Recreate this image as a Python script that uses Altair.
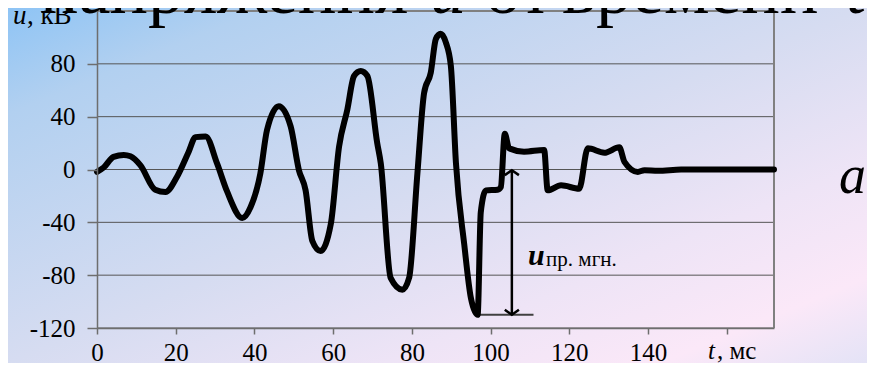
import altair as alt
import pandas as pd

# ---- data ----
t_ms = [0, 1.7, 4.2, 6.8, 8.5, 11, 14.8, 17.4, 20.3, 23.3, 25, 27.6, 30.5, 33.1,
        36.9, 39, 41.5, 43.2, 46.2, 49.2, 51.3, 53, 54.7, 56.8, 59.4, 61.5, 63.6,
        65.3, 67, 68.7, 71.2, 72.1, 74.6, 77.6, 79.3, 81.4, 83.1, 84.8, 86.1, 87.3,
        88.6, 89.9, 91.2, 93.3, 95, 96.7, 97.5, 98.8, 101.8, 102.6, 103.6, 104.7,
        108.5, 113.6, 114.5, 117.9, 122.5, 124.7, 128.9, 132.7, 134, 137.4, 139.1,
        142.5, 148.4, 172]
u_kv = [-1.8, 1.5, 9.6, 11, 10, 3.3, -15.3, -17, -5.6, 13.5, 24.5, 25, 4.6, -17,
        -36.7, -28.6, -3, 30, 47.9, 32.6, -0.5, -15.8, -54, -61.7, -41.3, 17.3, 45.4,
        70.8, 74.6, 70.8, 19.9, 4.6, -82, -91, -82, -3, 58, 73.4, 98.9, 102.7,
        96.4, 78.5, 4.6, -56.6, -97.4, -110, -32.4, -15.8, -15.3, -13.3, 27, 16,
        13.5, 14.8, -15.8, -12, -14.5, 16, 12.7, 16.8, 5.8, -1.8, -0.5,
        -1, 0, 0]

x_ticks = [0, 20, 40, 60, 80, 100, 120, 140, 160]
y_ticks = [-120, -80, -40, 0, 40, 80]
grid_vals = [-120, -80, -40, 0, 40, 80, 120]

arrow_t = [105.4]
arrow_top = [-0.5]
arrow_bottom = [-110]
base_t = [96.7]
base_t2 = [110.9]
label_t = [109.5, 114.1]
label_u = [-72.3, -73.1]
label_txt = ["u", "пр. мгн."]

W, H = 677, 317
FONT = "Liberation Serif"

xs = alt.Scale(domain=[0, 172], nice=False, zero=False)
ys = alt.Scale(domain=[-120, 120], nice=False, zero=False)
one = pd.DataFrame({"k": [0]})

x_axis = alt.Axis(
    values=x_ticks, title=None, grid=False, zindex=1,
    labelExpr="datum.value == 160 ? '' : datum.label",
    domainColor="#6e6e6e", domainWidth=1.5, tickColor="#6e6e6e", tickWidth=1.5,
    tickSize=6, labelFont=FONT, labelFontSize=25, labelColor="black",
    labelPadding=6, labelOverlap=False, labelFlush=False)
y_axis = alt.Axis(
    values=y_ticks, title=None, grid=False, zindex=1,
    labelExpr="datum.value < 0 ? '-' + abs(datum.value) : '' + datum.value",
    domainColor="#6e6e6e", domainWidth=1.5, tickColor="#6e6e6e", tickWidth=1.5,
    tickSize=10, labelFont=FONT, labelFontSize=25, labelColor="black",
    labelPadding=12, labelOverlap=False, labelFlush=False)

# background gradient covering whole canvas
grad = alt.LinearGradient(
    gradient="linear",
    stops=[
        alt.GradientStop(color="#8EC4F5", offset=0),
        alt.GradientStop(color="#B2D0F0", offset=0.15),
        alt.GradientStop(color="#D6DCF1", offset=0.5),
        alt.GradientStop(color="#EEE4F6", offset=0.72),
        alt.GradientStop(color="#FBE8F8", offset=0.88),
        alt.GradientStop(color="#E4E3F6", offset=1),
    ],
    x1=0, y1=0, x2=1, y2=1,
)
bg = alt.Chart(one).mark_rect(fill=grad, strokeWidth=0).encode(
    x=alt.value(-89), x2=alt.value(W + 93), y=alt.value(-3), y2=alt.value(H + 35)
)

grid = alt.Chart(pd.DataFrame({"g": grid_vals})).mark_rule(
    color="#555555", strokeWidth=1
).encode(y=alt.Y("g:Q", scale=ys, axis=y_axis))

right_border = alt.Chart(one).mark_rule(color="#808080", strokeWidth=2).encode(
    x=alt.value(W), y=alt.value(0), y2=alt.value(H)
)
top_border = alt.Chart(one).mark_rule(color="#808080", strokeWidth=2).encode(
    x=alt.value(0), x2=alt.value(W), y=alt.value(0)
)

wave = pd.DataFrame({"t": t_ms, "u": u_kv})
line = alt.Chart(wave).mark_line(
    color="black", strokeWidth=6, strokeJoin="round", strokeCap="round",
    interpolate="monotone"
).encode(
    x=alt.X("t:Q", scale=xs, axis=x_axis),
    y=alt.Y("u:Q", scale=ys, axis=y_axis),
)

arr = pd.DataFrame({"t": arrow_t, "a": arrow_top, "b": arrow_bottom})
shaft = alt.Chart(arr).mark_rule(color="black", strokeWidth=2.5).encode(
    x=alt.X("t:Q", scale=xs), y=alt.Y("a:Q", scale=ys), y2="b:Q"
)
head_up = alt.Chart(arr).mark_point(
    shape="M-1,0.7L0,0L1,0.7", filled=False, size=200, color="black", strokeWidth=2.5, opacity=1
).encode(x=alt.X("t:Q", scale=xs), y=alt.Y("a:Q", scale=ys))
head_dn = alt.Chart(arr).mark_point(
    shape="M-1,-0.7L0,0L1,-0.7", filled=False, size=200, color="black", strokeWidth=2.5, opacity=1
).encode(x=alt.X("t:Q", scale=xs), y=alt.Y("b:Q", scale=ys))

base = alt.Chart(pd.DataFrame({"t": base_t, "t2": base_t2, "u": arrow_bottom})).mark_rule(
    color="#404040", strokeWidth=2
).encode(x=alt.X("t:Q", scale=xs), x2="t2:Q", y=alt.Y("u:Q", scale=ys))

lab = pd.DataFrame({"t": label_t, "u": label_u, "s": label_txt})
lab_u = alt.Chart(lab.iloc[[0]]).mark_text(
    font=FONT, fontSize=30, fontStyle="italic", fontWeight="bold", align="left",
    baseline="alphabetic", color="black"
).encode(x=alt.X("t:Q", scale=xs), y=alt.Y("u:Q", scale=ys), text="s:N")
lab_sub = alt.Chart(lab.iloc[[1]]).mark_text(
    font=FONT, fontSize=21, align="left", baseline="alphabetic", color="black"
).encode(x=alt.X("t:Q", scale=xs), y=alt.Y("u:Q", scale=ys), text="s:N")


def txt(s, px, py, size, style="normal", weight="normal"):
    return alt.Chart(one).mark_text(
        text=s, font=FONT, fontSize=size, fontStyle=style, fontWeight=weight,
        align="left", baseline="alphabetic", color="black"
    ).encode(x=alt.value(px), y=alt.value(py))


texts = [
    txt("напряжения", -57, 1.5, 72),
    txt("u", 333, 1.5, 72, "italic"),
    txt("от", 388, 1.5, 72),
    txt("времени", 465, 1.5, 72),
    txt("t", 749, 1.5, 72, "italic"),
    txt("u", -84, 13, 27, "italic"),
    txt(", кВ", -70, 13, 27),
    txt("t", 611, 348, 25, "italic"),
    txt(", мс", 620, 348, 25),
    txt("a", 742, 182, 54, "italic"),
]

chart = alt.layer(
    bg, grid, right_border, top_border, base, shaft, head_up, head_dn, line,
    lab_u, lab_sub, *texts
).properties(
    width=W, height=H,
    padding={"left": 89, "top": 3, "right": 93, "bottom": 35},
    autosize=alt.AutoSizeParams(type="none"),
).configure_view(stroke=None)

chart.save("out.html", embed_options={"renderer": "svg", "actions": False})
